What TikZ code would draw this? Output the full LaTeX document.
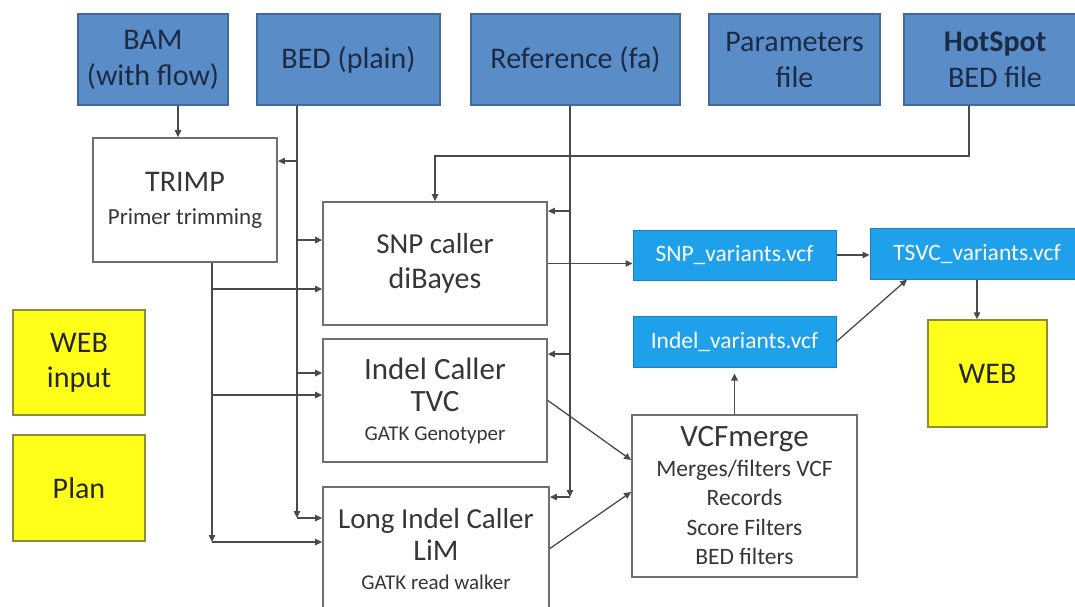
\documentclass[tikz,border=0pt]{standalone}
\usepackage{fontspec}
\setmainfont{Carlito}
\usetikzlibrary{arrows.meta}
\definecolor{topblue}{HTML}{5A8DC8}
\definecolor{topborder}{HTML}{3F6A9A}
\definecolor{toptext}{HTML}{1B2A45}
\definecolor{vcfblue}{HTML}{1FA0EA}
\definecolor{vcfborder}{HTML}{1A80C0}
\definecolor{procborder}{HTML}{707070}
\definecolor{proctext}{HTML}{363636}
\definecolor{yfill}{HTML}{FFFF1A}
\definecolor{yborder}{HTML}{8C8C3C}
\definecolor{linec}{HTML}{4A4A4A}
\begin{document}
\begin{tikzpicture}[x=1pt,y=-1pt,
  topbox/.style={draw=topborder, fill=topblue, line width=1.5pt, text=toptext, align=center, inner sep=0pt, font=\fontsize{30}{36}\selectfont},
  vcfbox/.style={draw=vcfborder, fill=vcfblue, line width=1pt, text=white, align=center, inner sep=0pt, minimum height=50pt, font=\fontsize{23.5}{26}\selectfont},
  proc/.style={draw=procborder, fill=white, line width=1.8pt, text=proctext, align=center, inner sep=0pt},
  ybox/.style={draw=yborder, fill=yfill, line width=1.5pt, text=black!85, align=center, inner sep=0pt, font=\fontsize{30}{35}\selectfont},
  ln/.style={draw=linec, line width=1.3pt},
  arr/.style={ln, -{Triangle[length=7pt,width=6.5pt]}}
]
\useasboundingbox (0,0) rectangle (1075,606);
\clip (0,0) rectangle (1075,606);

% top input boxes
\node[topbox, minimum width=150pt, minimum height=91pt] (bam) at (153,59.5) {BAM\\(with flow)};
\node[topbox, minimum width=183pt, minimum height=91pt] (bed) at (348.5,59.5) {BED (plain)};
\node[topbox, minimum width=209pt, minimum height=91pt] (ref) at (575.5,59.5) {Reference (fa)};
\node[topbox, minimum width=171pt, minimum height=91pt] (par) at (794.5,59.5) {Parameters\\file};
\node[topbox, minimum width=182pt, minimum height=91pt] (hot) at (995,59.5) {\textbf{HotSpot}\\BED file};

% process boxes
\node[proc, minimum width=184pt, minimum height=124pt, font=\fontsize{30}{33}\selectfont] (trimp) at (185,200)
  {TRIMP\\{\fontsize{23}{26}\selectfont Primer trimming}};
\node[proc, minimum width=224pt, minimum height=123pt, font=\fontsize{29}{35}\selectfont] (snp) at (435,263.5)
  {SNP caller\\{\fontsize{30}{35}\selectfont diBayes}};
\node[proc, minimum width=224pt, minimum height=123pt, font=\fontsize{31}{32}\selectfont] (indel) at (435,400.5)
  {Indel Caller\\TVC\\[-3pt]{\fontsize{21}{24}\selectfont GATK Genotyper}};
\node[proc, minimum width=226pt, minimum height=123pt, font=\fontsize{29}{32}\selectfont] (longind) at (436,548.5)
  {Long Indel Caller\\{\fontsize{30}{32}\selectfont LiM}\\[-3pt]{\fontsize{21}{24}\selectfont GATK read walker}};
\node[proc, minimum width=225pt, minimum height=162pt, font=\fontsize{23.5}{29.5}\selectfont] (vcfm) at (744.5,496)
  {{\fontsize{31}{33}\selectfont VCFmerge}\\Merges/filters VCF\\Records\\Score Filters\\BED filters};

% vcf outputs
\node[vcfbox, minimum width=203pt] (snpv) at (734.5,255) {SNP\_variants.vcf};
\node[vcfbox, minimum width=214pt, minimum height=51pt] (tsvc) at (977,253.5) {TSVC\_variants.vcf};
\node[vcfbox, minimum width=203pt, minimum height=51pt] (indelv) at (734.5,341.5) {Indel\_variants.vcf};

% yellow boxes
\node[ybox, minimum width=119pt, minimum height=107pt] (web) at (987.5,373.5) {WEB};
\node[ybox, minimum width=132pt, minimum height=105pt] (webin) at (79,362.5) {WEB\\input};
\node[ybox, minimum width=132pt, minimum height=106pt] (plan) at (79,488) {Plan};

% bus coordinates
\coordinate (xbam) at (178,0);
\coordinate (xbed) at (297,0);
\coordinate (xtr) at (212,0);
\coordinate (xref) at (570,0);
\coordinate (bed1) at (297,161);
\coordinate (bed2) at (297,240);
\coordinate (bed3) at (297,373);
\coordinate (bedc) at (297,518);
\coordinate (tr1) at (212,289);
\coordinate (tr2) at (212,395);
\coordinate (trc) at (212,542);
\coordinate (ref1) at (570,211);
\coordinate (ref2) at (570,354);
\coordinate (refc) at (570,497);
\coordinate (hs1) at (969,156);
\coordinate (hs2) at (435,156);

% BAM -> TRIMP
\draw[arr] (bam.south -| xbam) -- (trimp.north -| xbam);

% BED bus
\draw[arr] (bed.south -| xbed) -- (bedc);
\draw[arr] (bed1) -- (bed1 -| trimp.east);
\draw[arr] (bed2) -- (bed2 -| snp.west);
\draw[arr] (bed3) -- (bed3 -| indel.west);
\draw[arr] (bedc) -- (bedc -| longind.west);

% TRIMP bus
\draw[arr] (trimp.south -| xtr) -- (trc);
\draw[arr] (tr1) -- (tr1 -| snp.west);
\draw[arr] (tr2) -- (tr2 -| indel.west);
\draw[arr] (trc) -- (trc -| longind.west);

% HotSpot -> SNP
\draw[arr] (hot.south -| hs1) -- (hs1) -- (hs2) -- (snp.north);

% Reference bus
\draw[arr] (ref.south -| xref) -- (refc);
\draw[arr] (ref1) -- (ref1 -| snp.east);
\draw[arr] (ref2) -- (ref2 -| indel.east);
\draw[arr] (refc) -- (refc -| longind.east);

% outputs
\draw[arr] (snp.east) -- (snp.east -| snpv.west);
\draw[arr] (snpv.east) -- (snpv.east -| tsvc.west);
\draw[arr] (indelv.east) -- ([xshift=-70pt]tsvc.south);
\draw[arr] (tsvc.south) -- (tsvc.south |- web.north);
\draw[arr, shorten >=6pt] (indelv.south |- vcfm.north) -- (indelv.south);
\draw[arr] (indel.east) -- ([yshift=36pt]vcfm.west);
\draw[arr] (longind.east) -- ([yshift=4pt]vcfm.west);
\end{tikzpicture}
\end{document}
